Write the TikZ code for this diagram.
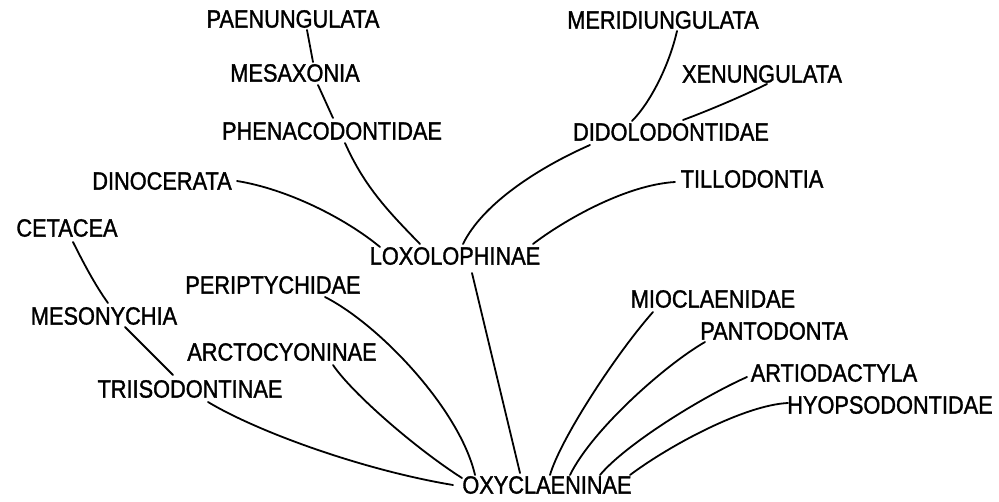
\documentclass[tikz,border=0pt]{standalone}
\usepackage{fontspec}
\newfontfamily\labfont[FakeStretch=0.87,FakeBold=1.3]{Liberation Sans}
\usetikzlibrary{calc}
\tikzset{
  lab/.style={inner sep=0pt, anchor=center, font=\labfont\fontsize{25}{30}\selectfont},
  link/.style={line width=1.8pt, line cap=round}
}
\begin{document}
\begin{tikzpicture}[x=1pt,y=-1pt]
\useasboundingbox (0,0) rectangle (999,501);
\fill[white] (0,0) rectangle (999,501);
% labels
\node[lab] (pae) at (293,19) {PAENUNGULATA};
\node[lab] (mes) at (295,73) {MESAXONIA};
\node[lab] (phe) at (332,131) {PHENACODONTIDAE};
\node[lab] (din) at (162,181) {DINOCERATA};
\node[lab] (lox) at (455,256) {LOXOLOPHINAE};
\node[lab] (mer) at (663,20) {MERIDIUNGULATA};
\node[lab] (xen) at (762,74) {XENUNGULATA};
\node[lab] (did) at (671,132) {DIDOLODONTIDAE};
\node[lab] (til) at (752,179) {TILLODONTIA};
\node[lab] (cet) at (67,228) {CETACEA};
\node[lab] (meso) at (104,316) {MESONYCHIA};
\node[lab] (tri) at (190,389) {TRIISODONTINAE};
\node[lab] (per) at (273,285) {PERIPTYCHIDAE};
\node[lab] (arc) at (282,352) {ARCTOCYONINAE};
\node[lab] (oxy) at (547,485) {OXYCLAENINAE};
\node[lab] (mio) at (713,299) {MIOCLAENIDAE};
\node[lab] (pan) at (774,331) {PANTODONTA};
\node[lab] (art) at (834,373) {ARTIODACTYLA};
\node[lab] (hyo) at (890,405) {HYOPSODONTIDAE};
% connectors
\draw[link] ($(pae)+(14,11)$) -- ($(mes)+(18,-11)$);
\draw[link] ($(mes)+(23,12)$) -- ($(phe)+(1,-13)$);
\draw[link] ($(phe)+(13,12)$) .. controls (365,188) and (390,213) .. ($(lox)+(-35,-12)$);
\draw[link] ($(din)+(75,0)$) .. controls (287,189) and (345,218) .. ($(lox)+(-75,-9)$);
\draw[link] ($(lox)+(8,-12)$) .. controls (483,203) and (540,167) .. ($(did)+(-81,13)$);
\draw[link] ($(lox)+(78,-12)$) .. controls (563,221) and (625,185) .. ($(til)+(-77,3)$);
\draw[link] ($(did)+(-39,-11)$) .. controls (650,103) and (669,66) .. ($(mer)+(14,11)$);
\draw[link] ($(did)+(12,-12)$) .. controls (710,110) and (745,95) .. ($(xen)+(5,10)$);
\draw[link] ($(cet)+(6,14)$) .. controls (83,262) and (95,285) .. ($(meso)+(4,-13)$);
\draw[link] ($(meso)+(21,11)$) -- ($(tri)+(-17,-14)$);
\draw[link] ($(tri)+(18,13)$) .. controls (258,432) and (363,470) .. ($(oxy)+(-94,0)$);
\draw[link] ($(arc)+(51,13)$) .. controls (352,393) and (415,448) .. ($(oxy)+(-85,-7)$);
\draw[link] ($(per)+(52,12)$) .. controls (380,325) and (460,410) .. ($(oxy)+(-72,-10)$);
\draw[link] ($(lox)+(17,17)$) -- ($(oxy)+(-27,-12)$);
\draw[link] ($(mio)+(-60,13)$) .. controls (615,355) and (560,440) .. ($(oxy)+(3,-10)$);
\draw[link] ($(pan)+(-69,11)$) .. controls (665,365) and (592,430) .. ($(oxy)+(23,-10)$);
\draw[link] ($(art)+(-87,4)$) .. controls (700,398) and (625,445) .. ($(oxy)+(53,-10)$);
\draw[link] ($(hyo)+(-102,-2)$) .. controls (745,405) and (670,445) .. ($(oxy)+(83,-10)$);
\end{tikzpicture}
\end{document}
